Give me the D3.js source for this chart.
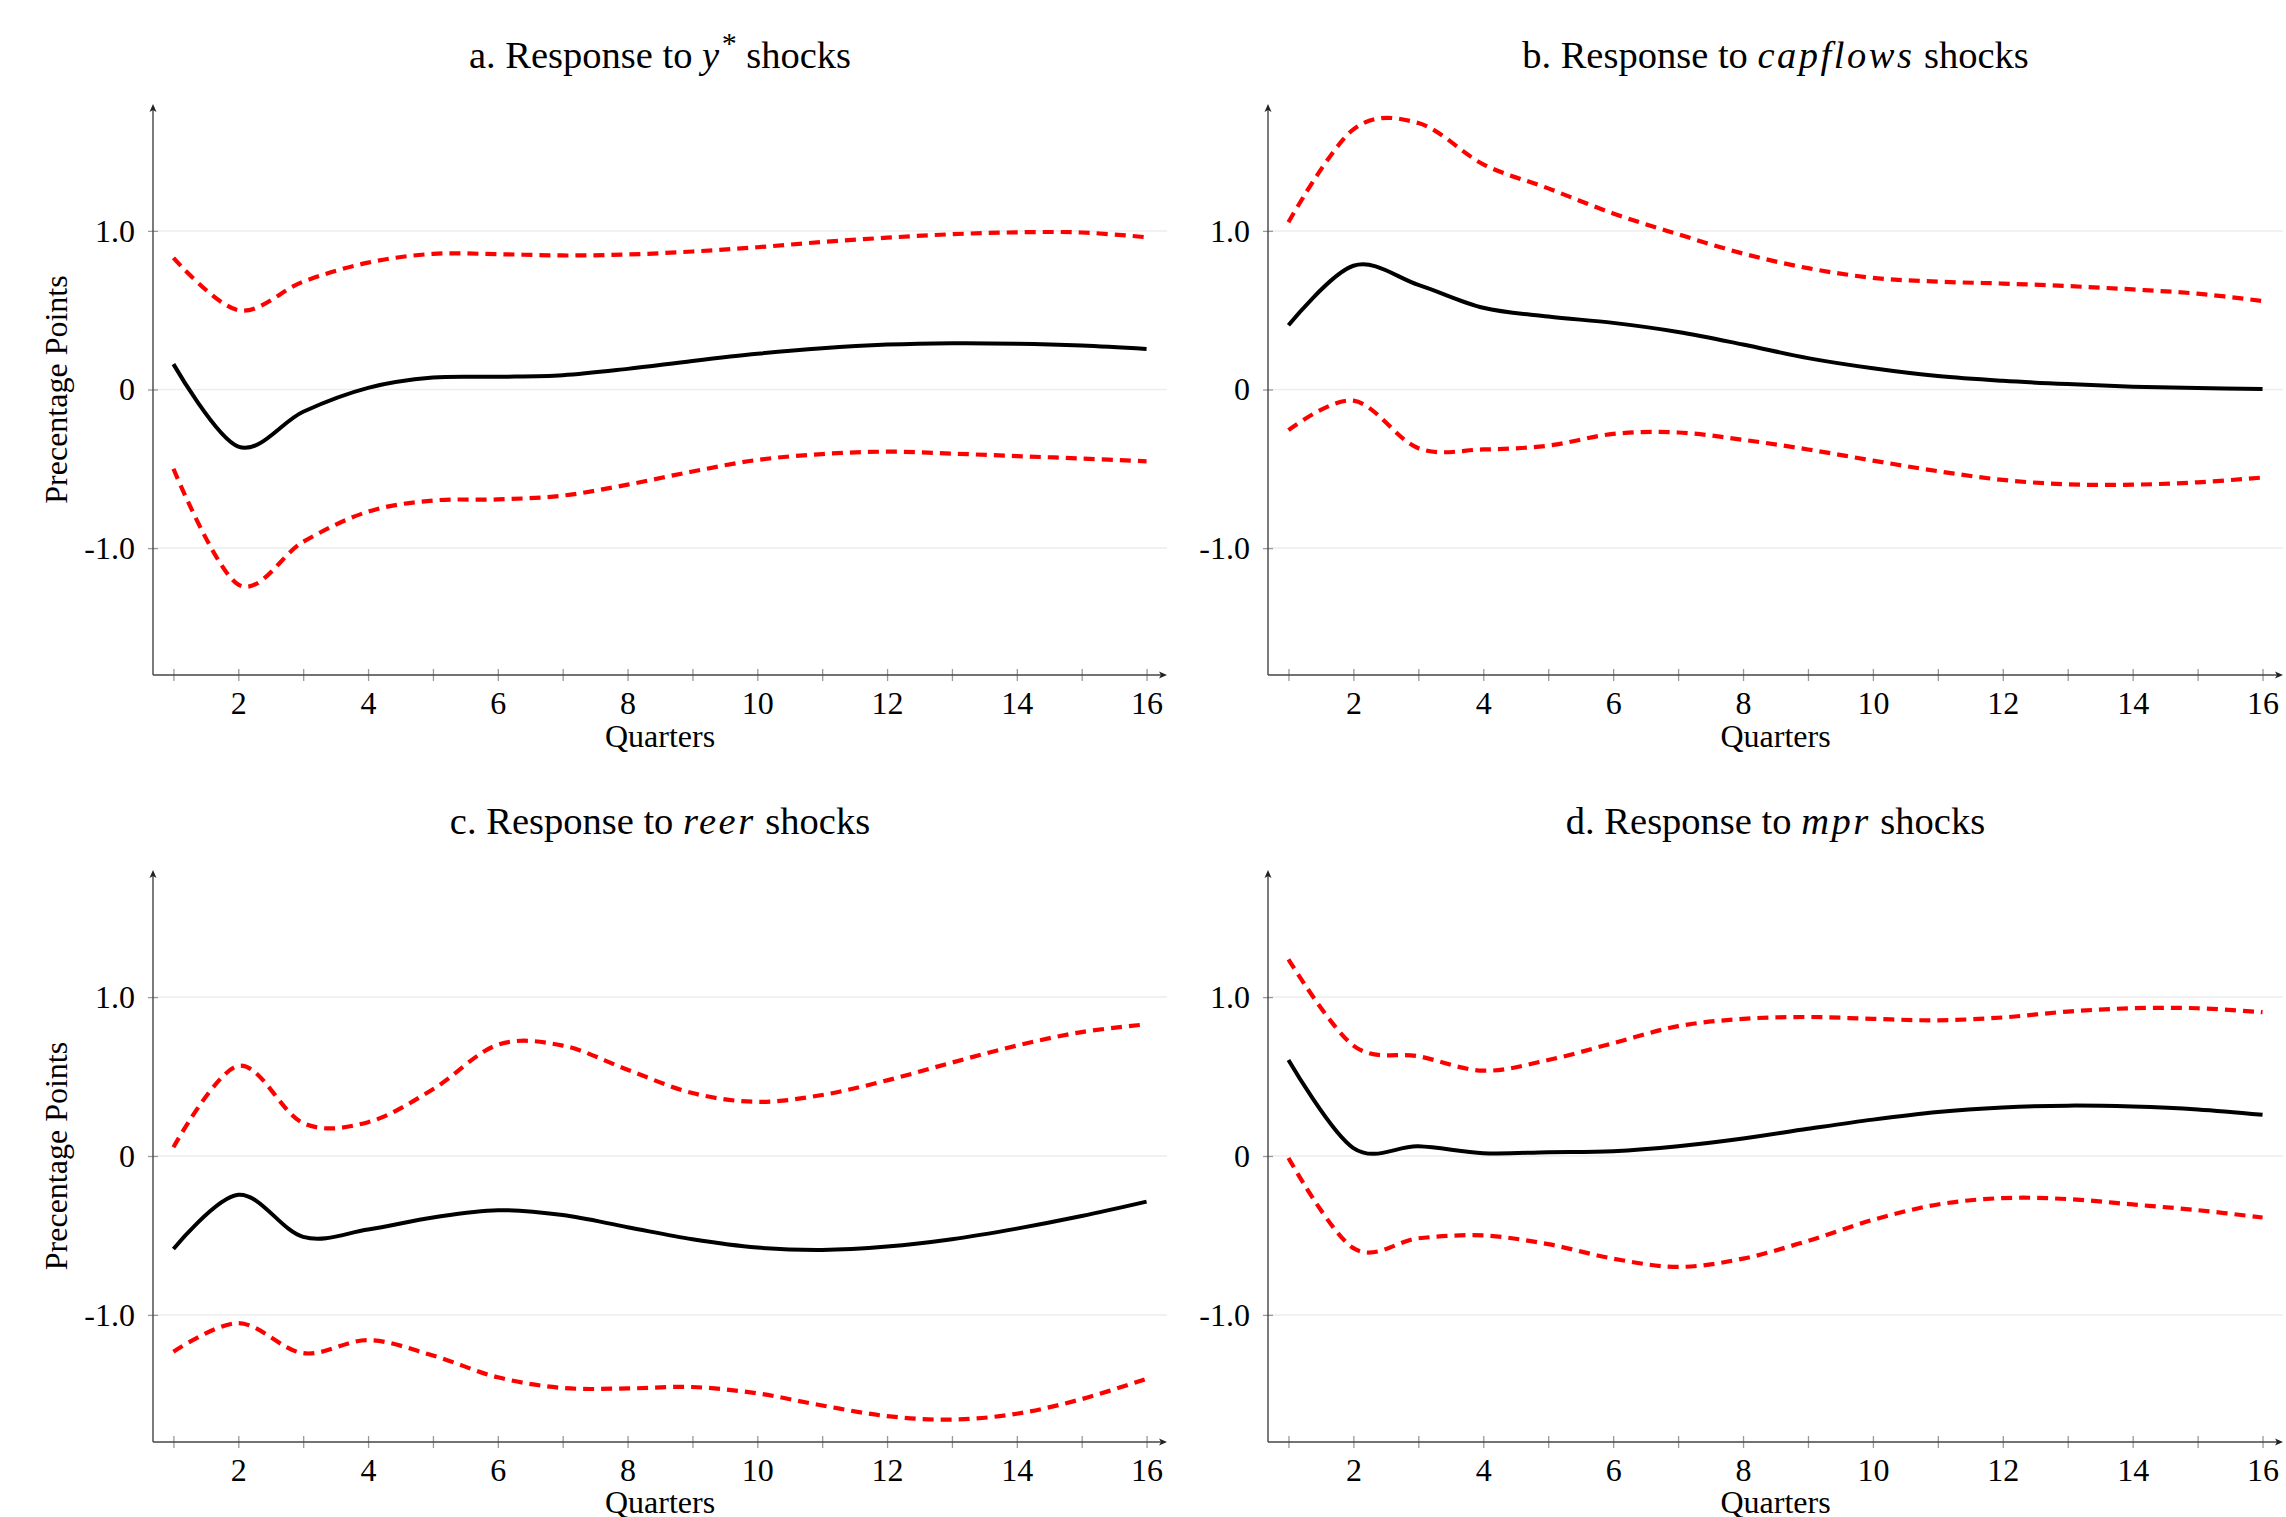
<!DOCTYPE html>
<html>
<head>
<meta charset="utf-8">
<script src="https://cdn.jsdelivr.net/npm/d3@7"></script>
<style>
  html, body { margin: 0; padding: 0; background: #fff; }
  svg { display: block; }
  text { font-family: "Liberation Serif", "Times New Roman", serif; fill: #000; }
</style>
</head>
<body>
<svg id="chart" width="2286" height="1517"></svg>
<script>
// ---------------- DATA ----------------
const quarters = [1, 2, 3, 4, 5, 6, 7, 8, 9, 10, 11, 12, 13, 14, 15, 16];
const xTickLabels = [2, 4, 6, 8, 10, 12, 14, 16];
const yTicks = [-1, 0, 1];
const yTickLabels = ["-1.0", "0", "1.0"];
const panelLetters = ["a.", "b.", "c.", "d."];
const shockNames = ["y", "capflows", "reer", "mpr"];
const shockSuperscripts = ["*", "", "", ""];
const xAxisLabel = "Quarters";
const yAxisLabel = "Precentage Points";

// a. y* shocks
const ystarMean  = [0.16, -0.36, -0.14, 0.01, 0.075, 0.08, 0.09, 0.13, 0.18, 0.225, 0.26, 0.283, 0.292, 0.289, 0.277, 0.255];
const ystarUpper = [0.83, 0.50, 0.68, 0.80, 0.855, 0.853, 0.845, 0.851, 0.87, 0.897, 0.93, 0.957, 0.979, 0.991, 0.99, 0.96];
const ystarLower = [-0.50, -1.23, -0.96, -0.77, -0.70, -0.693, -0.669, -0.60, -0.517, -0.444, -0.407, -0.392, -0.404, -0.42, -0.435, -0.453];

// b. capflows shocks
const capflowsMean  = [0.405, 0.78, 0.66, 0.515, 0.46, 0.42, 0.363, 0.284, 0.198, 0.134, 0.085, 0.055, 0.034, 0.018, 0.009, 0.003];
const capflowsUpper = [1.055, 1.64, 1.68, 1.42, 1.268, 1.11, 0.979, 0.857, 0.765, 0.704, 0.68, 0.668, 0.652, 0.631, 0.604, 0.558];
const capflowsLower = [-0.256, -0.07, -0.37, -0.378, -0.354, -0.28, -0.271, -0.317, -0.378, -0.448, -0.515, -0.57, -0.598, -0.60, -0.585, -0.555];

// c. reer shocks
const reerMean  = [-0.585, -0.244, -0.509, -0.463, -0.387, -0.341, -0.372, -0.448, -0.524, -0.576, -0.591, -0.570, -0.524, -0.457, -0.378, -0.287];
const reerUpper = [0.055, 0.567, 0.207, 0.213, 0.42, 0.70, 0.695, 0.543, 0.396, 0.341, 0.384, 0.476, 0.588, 0.695, 0.78, 0.829];
const reerLower = [-1.232, -1.052, -1.241, -1.159, -1.256, -1.393, -1.46, -1.463, -1.454, -1.494, -1.57, -1.637, -1.659, -1.622, -1.53, -1.402];

// d. mpr shocks
const mprMean  = [0.604, 0.05, 0.061, 0.018, 0.024, 0.03, 0.061, 0.11, 0.171, 0.229, 0.277, 0.305, 0.317, 0.311, 0.293, 0.259];
const mprUpper = [1.238, 0.695, 0.628, 0.537, 0.604, 0.71, 0.817, 0.863, 0.875, 0.863, 0.854, 0.872, 0.909, 0.93, 0.93, 0.905];
const mprLower = [-0.012, -0.58, -0.518, -0.50, -0.555, -0.646, -0.698, -0.646, -0.534, -0.402, -0.305, -0.265, -0.271, -0.305, -0.341, -0.387];

const meanSeries  = [ystarMean, capflowsMean, reerMean, mprMean];
const upperSeries = [ystarUpper, capflowsUpper, reerUpper, mprUpper];
const lowerSeries = [ystarLower, capflowsLower, reerLower, mprLower];

// ---------------- LAYOUT ----------------
const svg = d3.select("#chart");
svg.append("rect").attr("width", 2286).attr("height", 1517).attr("fill", "#fff");

const layouts = [
  { left: 153,  right: 1167, top: 104, bottom: 675, titleY: 68,  xLabelDy: 72, yLabel: true },
  { left: 1268, right: 2283, top: 104, bottom: 675, titleY: 68,  xLabelDy: 72, yLabel: false },
  { left: 153,  right: 1167, top: 870, bottom: 1442, titleY: 834, xLabelDy: 71, yLabel: true },
  { left: 1268, right: 2283, top: 870, bottom: 1442, titleY: 834, xLabelDy: 71, yLabel: false }
];
const xDomain = [0.685, 16.315];
const yDomain = [-1.8, 1.8];

const line = (xs, ys) => d3.line()
  .x((d, i) => xs(quarters[i]))
  .y(d => ys(d))
  .curve(d3.curveCardinal.tension(0));

layouts.forEach((L, p) => {
  const g = svg.append("g");
  const x = d3.scaleLinear().domain(xDomain).range([L.left, L.right]);
  const y = d3.scaleLinear().domain(yDomain).range([L.bottom, L.top]);

  // grid lines
  g.selectAll("line.grid").data(yTicks).enter().append("line")
    .attr("x1", L.left).attr("x2", L.right)
    .attr("y1", d => y(d)).attr("y2", d => y(d))
    .attr("stroke", "#ededed").attr("stroke-width", 1.5);

  // bands
  [upperSeries[p], lowerSeries[p]].forEach(s => {
    g.append("path").datum(s)
      .attr("d", line(x, y))
      .attr("fill", "none").attr("stroke", "#ff0000")
      .attr("stroke-width", 4.2).attr("stroke-dasharray", "11,7");
  });
  // mean
  g.append("path").datum(meanSeries[p])
    .attr("d", line(x, y))
    .attr("fill", "none").attr("stroke", "#000")
    .attr("stroke-width", 4).attr("stroke-linejoin", "round");

  // x axis
  const xAxis = d3.axisBottom(x).tickValues(quarters)
    .tickFormat(d => xTickLabels.includes(d) ? String(d) : "")
    .tickSize(6).tickPadding(10);
  const gx = g.append("g").attr("transform", `translate(0,${L.bottom})`).call(xAxis);
  gx.select(".domain").remove();
  gx.selectAll(".tick line").attr("y1", -6).attr("y2", 6).attr("stroke", "#9a9a9a").attr("stroke-width", 1.3);
  gx.selectAll(".tick text").attr("font-size", 32).attr("font-family", "Liberation Serif").attr("fill", "#000");

  // y axis
  const yAxis = d3.axisLeft(y).tickValues(yTicks)
    .tickFormat((d, i) => yTickLabels[i])
    .tickSize(5).tickPadding(13);
  const gy = g.append("g").attr("transform", `translate(${L.left},0)`).call(yAxis);
  gy.select(".domain").remove();
  gy.selectAll(".tick line").attr("x1", 5).attr("x2", -5).attr("stroke", "#9a9a9a").attr("stroke-width", 1.3);
  gy.selectAll(".tick text").attr("font-size", 32).attr("font-family", "Liberation Serif").attr("fill", "#000");

  // axis lines with arrows
  g.append("line").attr("x1", L.left).attr("x2", L.right - 5)
    .attr("y1", L.bottom).attr("y2", L.bottom)
    .attr("stroke", "#444").attr("stroke-width", 1.4);
  g.append("path")
    .attr("d", `M${L.right},${L.bottom} L${L.right - 8},${L.bottom - 3.5} L${L.right - 6},${L.bottom} L${L.right - 8},${L.bottom + 3.5} Z`)
    .attr("fill", "#222");
  g.append("line").attr("x1", L.left).attr("x2", L.left)
    .attr("y1", L.bottom).attr("y2", L.top + 5)
    .attr("stroke", "#444").attr("stroke-width", 1.4);
  g.append("path")
    .attr("d", `M${L.left},${L.top} L${L.left - 3.5},${L.top + 8} L${L.left},${L.top + 6} L${L.left + 3.5},${L.top + 8} Z`)
    .attr("fill", "#222");

  // x label
  g.append("text")
    .attr("x", (L.left + L.right) / 2).attr("y", L.bottom + L.xLabelDy)
    .attr("text-anchor", "middle").attr("font-size", 32)
    .text(xAxisLabel);

  // y label
  if (L.yLabel) {
    g.append("text")
      .attr("transform", `translate(67,${y(0)}) rotate(-90)`)
      .attr("text-anchor", "middle").attr("font-size", 32)
      .text(yAxisLabel);
  }

  // title
  const t = g.append("text")
    .attr("x", (L.left + L.right) / 2).attr("y", L.titleY)
    .attr("text-anchor", "middle").attr("font-size", 38.5);
  t.append("tspan").text(panelLetters[p] + " Response to ");
  t.append("tspan").attr("font-style", "italic").attr("letter-spacing", 2.5).text(shockNames[p]);
  if (shockSuperscripts[p]) {
    t.append("tspan").attr("font-size", 30).attr("dy", -15).text(shockSuperscripts[p]);
    t.append("tspan").attr("dy", 15).text(" shocks");
  } else {
    t.append("tspan").text(" shocks");
  }
});
</script>
</body>
</html>
